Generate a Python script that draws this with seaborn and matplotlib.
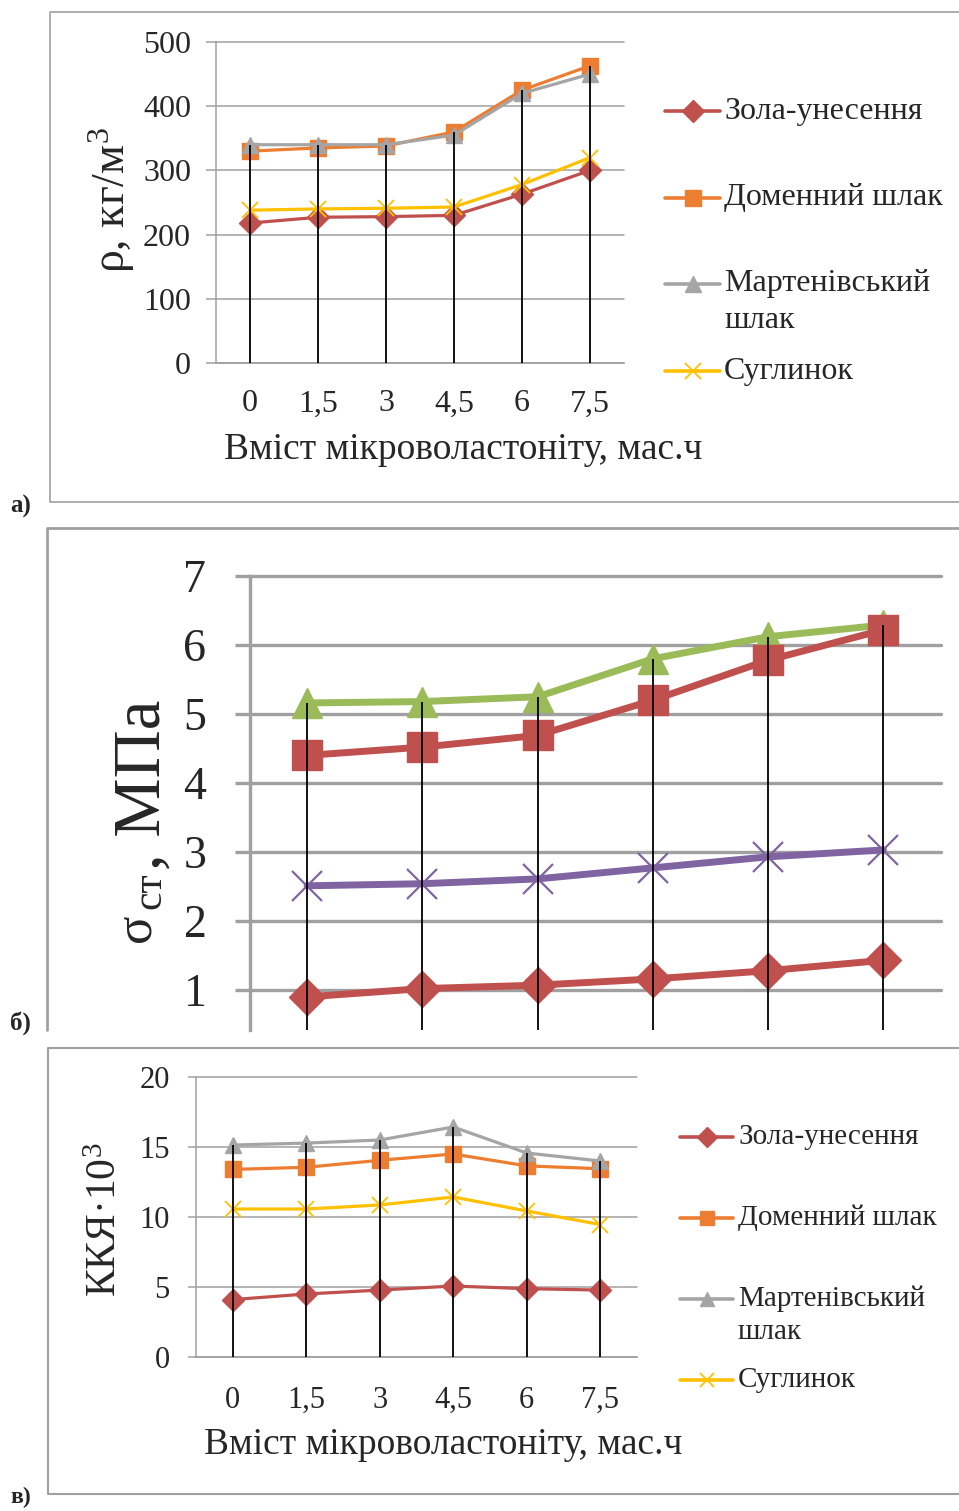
import numpy as np
import seaborn as sns
import matplotlib.pyplot as plt
from matplotlib.lines import Line2D

sns.set_style('white')
plt.rcParams['font.family'] = ['Liberation Serif', 'DejaVu Serif']
plt.rcParams['mathtext.fontset'] = 'custom'
plt.rcParams['mathtext.rm'] = 'Liberation Serif'
plt.rcParams['mathtext.it'] = 'Liberation Serif:italic'
plt.rcParams['mathtext.bf'] = 'Liberation Serif:bold'

# дані
x_vals = [0, 1.5, 3, 4.5, 6, 7.5]
x_labels = ['0', '1,5', '3', '4,5', '6', '7,5']
names = ['Зола-унесення', 'Доменний шлак', 'Мартенівський\nшлак', 'Суглинок']

# а) густина, кг/м3
dens_zola = [218, 227, 228, 230, 263, 300]
dens_domen = [330, 335, 338, 360, 425, 463]
dens_marten = [340, 340, 340, 355, 420, 450]
dens_sugl = [238, 240, 241, 243, 278, 320]

# б) міцність, МПа
str_square = [4.4, 4.52, 4.69, 5.2, 5.78, 6.22]
str_triangle = [5.16, 5.18, 5.25, 5.8, 6.12, 6.29]
str_cross = [2.51, 2.54, 2.61, 2.77, 2.93, 3.03]
str_diamond = [0.9, 1.02, 1.07, 1.16, 1.28, 1.43]

# в) ККЯ*10^3
kk_zola = [4.1, 4.5, 4.78, 5.07, 4.88, 4.78]
kk_domen = [13.4, 13.55, 14.05, 14.5, 13.65, 13.45]
kk_marten = [15.14, 15.28, 15.5, 16.43, 14.57, 14.0]
kk_sugl = [10.57, 10.57, 10.86, 11.43, 10.43, 9.46]

RED = '#C0504D'
ORANGE = '#ED7D31'
GREY = '#A5A5A5'
YELLOW = '#FFC000'
GREEN = '#9BBB59'
PURPLE = '#8064A2'
GRID = '#A0A0A0'

W, H = 959, 1511
fig = plt.figure(figsize=(W / 100, H / 100), dpi=100)


def fx(px):
    return px / W


def fy(py):
    return 1 - py / H


def draw_series(ax, series, colors, markers, lw, sizes, mew):
    for vals, col, mk, ms in zip(series, colors, markers, sizes):
        sns.lineplot(x=x_vals, y=vals, ax=ax, color=col, marker=mk,
                     markersize=ms, linewidth=lw, markeredgecolor=col,
                     markeredgewidth=mew if mk == 'x' else 1,
                     legend=False, zorder=3)
    # вертикальні лінії від осі до найвищої точки
    top = np.max(np.array(series), axis=0)
    ax.vlines(x_vals, ax.get_ylim()[0], top, color='black', lw=1.3, zorder=5)


def style_axes(ax, ylim, yticks, grid_lw, tick_len, fs, ypad, xpad):
    ax.set_xlim(-0.75, 8.25)
    ax.set_ylim(*ylim)
    ax.set_yticks(yticks)
    ax.set_xticks(x_vals)
    ax.set_xticklabels(x_labels)
    ax.yaxis.grid(True, color=GRID, lw=grid_lw)
    ax.xaxis.grid(False)
    for gl in ax.get_ygridlines():
        gl.set_clip_on(False)
    for s in ['top', 'right']:
        ax.spines[s].set_visible(False)
    for s in ['left', 'bottom']:
        ax.spines[s].set_color(GRID)
        ax.spines[s].set_linewidth(grid_lw)
    ax.tick_params(axis='y', length=tick_len, width=grid_lw, color=GRID,
                   labelsize=fs, pad=ypad, left=True)
    ax.tick_params(axis='x', length=0, labelsize=fs, pad=xpad)


def legend_block(x0, x1, xt, ys, colors, markers, lw, ms, fs, dy):
    for y, name, col, mk in zip(ys, names, colors, markers):
        ln = Line2D([fx(x0), fx((x0 + x1) / 2), fx(x1)], [fy(y)] * 3,
                    transform=fig.transFigure, color=col, lw=lw, marker=mk,
                    markevery=[1], ms=ms, mec=col, mew=1.3 if mk == 'x' else 1)
        fig.add_artist(ln)
        for k, part in enumerate(name.split('\n')):
            fig.text(fx(xt), fy(y + k * dy), part, fontsize=fs, va='center', ha='left')


def frame(points, lw):
    xs = [fx(p[0]) for p in points]
    ys = [fy(p[1]) for p in points]
    fig.add_artist(Line2D(xs, ys, transform=fig.transFigure, color=GRID, lw=lw))


def vtext(x, y, s, fs):
    # вертикальний підпис, (x, y) - початок базової лінії
    fig.text(fx(x), fy(y), s, fontsize=fs, rotation=90, rotation_mode='anchor',
             ha='left', va='baseline')


# ---------- а) ----------
ax_a = fig.add_axes([fx(216), fy(363), (624 - 216) / W, (363 - 42) / H])
style_axes(ax_a, (0, 500), [0, 100, 200, 300, 400, 500], 1.1, 7, 23, 11, 19)
draw_series(ax_a, [dens_zola, dens_domen, dens_marten, dens_sugl],
            [RED, ORANGE, GREY, YELLOW], ['D', 's', '^', 'x'], 2.3,
            [11, 12, 12, 12], 1.3)
ax_a.set_ylabel('ρ, кг/м$^3$', fontsize=33, va='center', ha='center')
ax_a.yaxis.set_label_coords(-0.255, 0.508)
ax_a.set_xlabel('Вміст мікроволастоніту, мас.ч', fontsize=27, va='center')
ax_a.xaxis.set_label_coords(0.605, -0.271)
legend_block(665, 720, 724, [111, 198, 284, 371], [RED, ORANGE, GREY, YELLOW],
             ['D', 's', '^', 'x'], 2.6, 11, 23, 37)

# ---------- б) ----------
ax_b = fig.add_axes([fx(249.5), fy(1030), (941 - 249.5) / W, (1030 - 576) / H])
style_axes(ax_b, (0.42, 7), [1, 2, 3, 4, 5, 6, 7], 2.4, 11, 33, 20, 10)
ax_b.spines['bottom'].set_visible(False)
ax_b.set_xticklabels([])
draw_series(ax_b, [str_triangle, str_square, str_cross, str_diamond],
            [GREEN, RED, PURPLE, RED], ['^', 's', 'x', 'D'], 5,
            [22, 21, 22, 18], 1.6)
# σ_ст, МПа складено з трьох частин
vtext(150, 942, 'σ', 38)
vtext(160, 909, 'ст', 30)
vtext(160, 870, ', МПа', 48)

# ---------- в) ----------
ax_c = fig.add_axes([fx(196), fy(1357), (637 - 196) / W, (1357 - 1077) / H])
style_axes(ax_c, (0, 20), [0, 5, 10, 15, 20], 1.1, 6, 22, 13, 21)
draw_series(ax_c, [kk_zola, kk_domen, kk_marten, kk_sugl],
            [RED, ORANGE, GREY, YELLOW], ['D', 's', '^', 'x'], 2.3,
            [11, 12, 12, 12], 1.3)
ax_c.set_ylabel('ККЯ·10$^3$', fontsize=30, va='center', ha='center')
ax_c.yaxis.set_label_coords(-0.204, 0.489)
ax_c.set_xlabel('Вміст мікроволастоніту, мас.ч', fontsize=27, va='center')
ax_c.xaxis.set_label_coords(0.56, -0.314)
legend_block(680, 733, 738, [1137, 1218, 1299, 1380], [RED, ORANGE, GREY, YELLOW],
             ['D', 's', '^', 'x'], 2.6, 10, 21, 33)

# рамки та підписи панелей
frame([(959, 12), (50, 12), (50, 502), (959, 502)], 1.2)
frame([(959, 528), (47, 528), (47, 1030)], 2.0)
frame([(959, 1048), (48, 1048), (48, 1494), (959, 1494)], 1.5)

for txt, y, fs in [('а)', 506, 18), ('б)', 1023, 18), ('в)', 1497, 17)]:
    fig.text(fx(10), fy(y), txt, fontsize=fs, fontweight='bold', va='center', ha='left')

plt.savefig('out.png', dpi=100)
